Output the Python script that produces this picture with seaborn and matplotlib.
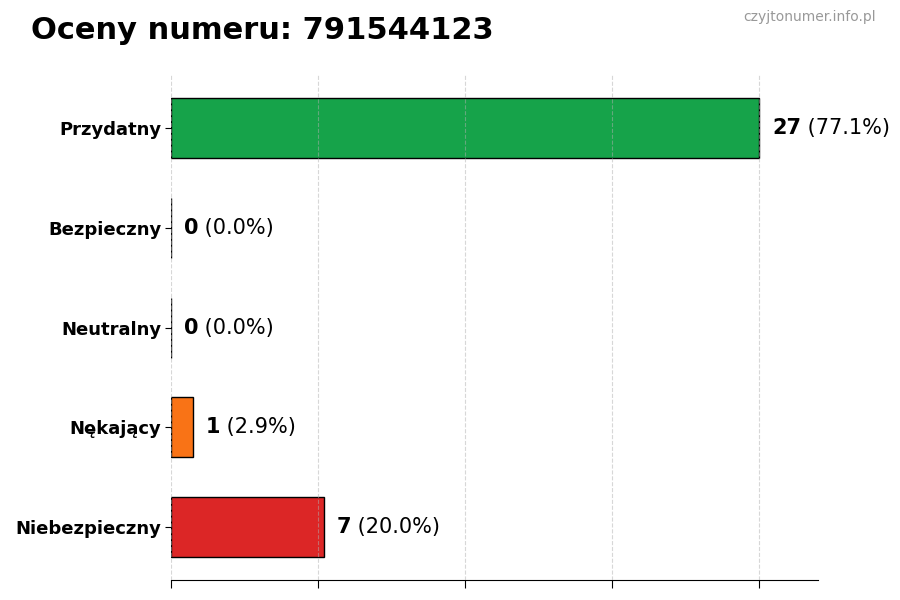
import numpy as np
import pandas as pd
import matplotlib
matplotlib.use('Agg')
import matplotlib.pyplot as plt
import seaborn as sns

# data
categories = ['Przydatny', 'Bezpieczny', 'Neutralny', 'Nękający', 'Niebezpieczny']
counts = [27, 0, 0, 1, 7]
colors = ['#16a34a', '#2563eb', '#9ca3af', '#f97316', '#dc2626']
phone = '791544123'

sns.set_style('white')
plt.rcParams['font.family'] = ['DejaVu Sans']
plt.rcParams['text.color'] = 'black'
plt.rcParams['xtick.color'] = 'black'
plt.rcParams['ytick.color'] = 'black'
plt.rcParams['axes.labelcolor'] = 'black'

df = pd.DataFrame({'category': categories, 'count': counts})
total = sum(counts)

fig = plt.figure(figsize=(9, 6), dpi=100)
ax = fig.add_axes([0.19, 0.033, 0.719, 0.842])

sns.barplot(data=df, x='count', y='category', hue='category', palette=colors,
            orient='h', width=0.6, edgecolor='black', linewidth=1,
            saturation=1, legend=False, ax=ax)

max_val = max(counts)
ax.set_xlim(0, max_val * 1.1)
ax.set_ylim(len(categories) - 1 + 0.53, -0.53)
ax.set_xticks(np.linspace(0, max_val, 5))
ax.set_xticklabels([])
ax.grid(axis='x', linestyle='--', alpha=0.5, color='#b0b0b0')
ax.set_axisbelow(False)
ax.set_xlabel('')
ax.set_ylabel('')
for lbl in ax.get_yticklabels():
    lbl.set_fontweight('bold')
    lbl.set_fontsize(13)
ax.tick_params(axis='y', length=4, width=0.8, left=True, pad=3)
ax.tick_params(axis='x', length=6, width=0.8, bottom=True)

for s in ['top', 'right', 'left']:
    ax.spines[s].set_visible(False)
ax.spines['bottom'].set_color('black')

# value labels: bold count + normal percentage
for i, c in enumerate(counts):
    pct = c / total * 100
    t = ax.text(c + max_val * 0.022, i, f'{c}', fontsize=15, fontweight='bold',
                va='center', ha='left')
    ax.annotate(f' ({pct:.1f}%)', xy=(1, 0), xycoords=t, va='bottom',
                ha='left', fontsize=15)

fig.text(0.034, 0.925, f'Oceny numeru: {phone}', fontsize=22, fontweight='bold',
         ha='left', va='bottom')
fig.text(0.973, 0.96, 'czyjtonumer.info.pl', fontsize=10, color='#999999',
         ha='right', va='bottom')

fig.savefig('out.png', dpi=100)
